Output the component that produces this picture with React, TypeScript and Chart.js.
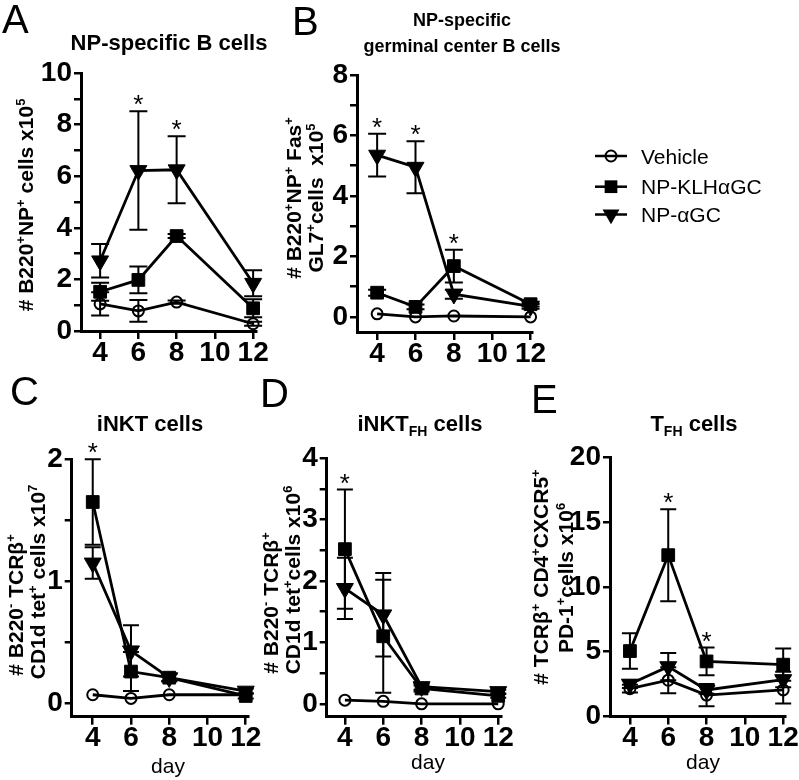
import React, { useEffect, useRef } from 'react';
import { Chart, registerables } from 'chart.js';

Chart.register(...registerables);

const FONT = '"Liberation Sans", Arial, Helvetica, sans-serif';

// ---------- data ----------
const days = [4, 6, 8, 12];
const xTicks = [4, 6, 8, 10, 12];
const seriesNames = ['Vehicle', 'NP-KLHαGC', 'NP-αGC'];

// Panel A: NP-specific B cells (x10^5)
const aVehicle = [1.05, 0.78, 1.12, 0.28];
const aVehicleErr = [0.45, 0.42, 0.06, 0.08];
const aKLH = [1.52, 1.98, 3.68, 0.88];
const aKLHErr = [0.35, 0.52, 0.08, 0.35];
const aAGC = [2.72, 6.22, 6.25, 1.85];
const aAGCErr = [0.65, 2.3, 1.3, 0.5];
const aStars = [6, 8];
const aYTicks = [0, 1, 2, 3, 4, 5, 6, 7, 8, 9, 10];
const aYLabels = [0, 2, 4, 6, 8, 10];

// Panel B: NP-specific GC B cells (x10^5)
const bVehicle = [0.1, 0.0, 0.03, 0.0];
const bVehicleErr = [0, 0, 0, 0];
const bKLH = [0.8, 0.33, 1.68, 0.42];
const bKLHErr = [0.1, 0.08, 0.54, 0.08];
const bAGC = [5.35, 4.95, 0.75, 0.35];
const bAGCErr = [0.71, 0.86, 0.15, 0.08];
const bStars = [4, 6, 8];
const bYTicks = [0, 1, 2, 3, 4, 5, 6, 7, 8];
const bYLabels = [0, 2, 4, 6, 8];

// Panel C: iNKT cells (x10^7)
const cVehicle = [0.07, 0.04, 0.07, 0.07];
const cVehicleErr = [0, 0, 0, 0];
const cKLH = [1.65, 0.26, 0.21, 0.06];
const cKLHErr = [0.35, 0.16, 0.03, 0.02];
const cAGC = [1.15, 0.43, 0.21, 0.1];
const cAGCErr = [0.13, 0.21, 0.03, 0.02];
const cStars = [4];
const cYTicks = [0, 0.5, 1, 1.5, 2];
const cYLabels = [0, 1, 2];

// Panel D: iNKT_FH cells (x10^6)
const dVehicle = [0.06, 0.04, 0.0, 0.0];
const dVehicleErr = [0, 0, 0, 0];
const dKLH = [2.52, 1.1, 0.25, 0.13];
const dKLHErr = [0.97, 0.92, 0.05, 0.03];
const dAGC = [1.88, 1.45, 0.28, 0.2];
const dAGCErr = [0.5, 0.68, 0.05, 0.03];
const dStars = [4];
const dYTicks = [0, 0.5, 1, 1.5, 2, 2.5, 3, 3.5, 4];
const dYLabels = [0, 1, 2, 3, 4];

// Panel E: T_FH cells (x10^6)
const eVehicle = [2.15, 2.8, 1.65, 2.05];
const eVehicleErr = [0.3, 1.0, 0.85, 1.05];
const eKLH = [5.05, 12.45, 4.25, 4.0];
const eKLHErr = [1.37, 3.55, 1.07, 1.25];
const eAGC = [2.5, 3.85, 2.05, 2.85];
const eAGCErr = [0.3, 1.05, 0.3, 0.6];
const eStars = [6, 8];
const eYTicks = [0, 5, 10, 15, 20];
const eYLabels = [0, 5, 10, 15, 20];

// ---------- layout ----------
type Series = { values: number[]; errs: number[] };
type Panel = {
  box: [number, number, number, number];
  plot: { left: number; top: number; right: number; bottom: number };
  xMin: number; xMax: number; yMin: number; yMax: number;
  yTicks: number[]; yLabels: number[];
  series: Series[];
  stars: number[];
  cap: number;
  title: { lines: string[]; x: number; y: number[]; size: number };
  yTitle: { lines: string[]; x: number[]; y: number[]; size: number };
  letter: { text: string; x: number; y: number };
  day?: { x: number; y: number };
  legend?: boolean;
};

const panels: Panel[] = [
  {
    box: [0, 0, 275, 370],
    plot: { left: 81, top: 73, right: 256, bottom: 331 },
    xMin: 3, xMax: 12.15, yMin: 0, yMax: 10,
    yTicks: aYTicks, yLabels: aYLabels,
    series: [
      { values: aVehicle, errs: aVehicleErr },
      { values: aKLH, errs: aKLHErr },
      { values: aAGC, errs: aAGCErr },
    ],
    stars: aStars, cap: 9,
    title: { lines: ['NP-specific B cells'], x: 169, y: [42], size: 22 },
    yTitle: { lines: ['# B220^{+}NP^{+} cells x10^{5}'], x: [25.5], y: [205], size: 21 },
    letter: { text: 'A', x: 2, y: 33 },
  },
  {
    box: [265, 0, 534, 370],
    plot: { left: 357, top: 75, right: 532.5, bottom: 332 },
    xMin: 2.95, xMax: 12.1, yMin: -0.5, yMax: 8,
    yTicks: bYTicks, yLabels: bYLabels,
    series: [
      { values: bVehicle, errs: bVehicleErr },
      { values: bKLH, errs: bKLHErr },
      { values: bAGC, errs: bAGCErr },
    ],
    stars: bStars, cap: 9,
    title: { lines: ['NP-specific', 'germinal center B cells'], x: 462, y: [20, 46], size: 18 },
    yTitle: { lines: ['# B220^{+}NP^{+} Fas^{+}', 'GL7^{+}cells  x10^{5}'], x: [293, 315], y: [198, 198], size: 21 },
    letter: { text: 'B', x: 292, y: 35 },
    legend: true,
  },
  {
    box: [0, 370, 270, 410],
    plot: { left: 71.7, top: 459.3, right: 248.6, bottom: 716.7 },
    xMin: 2.9, xMax: 12.15, yMin: -0.11, yMax: 2,
    yTicks: cYTicks, yLabels: cYLabels,
    series: [
      { values: cVehicle, errs: cVehicleErr },
      { values: cKLH, errs: cKLHErr },
      { values: cAGC, errs: cAGCErr },
    ],
    stars: cStars, cap: 8,
    title: { lines: ['iNKT cells'], x: 150, y: [423], size: 22 },
    yTitle: { lines: ['# B220^{-} TCRβ^{+}', 'CD1d tet^{+} cells x10^{7}'], x: [15, 37], y: [605, 582], size: 21 },
    letter: { text: 'C', x: 10, y: 405 },
    day: { x: 168, y: 773 },
  },
  {
    box: [255, 370, 275, 410],
    plot: { left: 326.7, top: 458.3, right: 501.1, bottom: 716.7 },
    xMin: 3.05, xMax: 12.15, yMin: -0.21, yMax: 4,
    yTicks: dYTicks, yLabels: dYLabels,
    series: [
      { values: dVehicle, errs: dVehicleErr },
      { values: dKLH, errs: dKLHErr },
      { values: dAGC, errs: dAGCErr },
    ],
    stars: dStars, cap: 8,
    title: { lines: ['iNKT_{FH} cells'], x: 420, y: [423], size: 22 },
    yTitle: { lines: ['# B220^{-} TCRβ^{+}', 'CD1d tet^{+}cells x10^{6}'], x: [270, 292], y: [603, 580], size: 21 },
    letter: { text: 'D', x: 260, y: 407 },
    day: { x: 428, y: 769 },
  },
  {
    box: [525, 370, 285, 410],
    plot: { left: 610, top: 457.3, right: 785.1, bottom: 716.5 },
    xMin: 2.96, xMax: 12.1, yMin: 0, yMax: 20,
    yTicks: eYTicks, yLabels: eYLabels,
    series: [
      { values: eVehicle, errs: eVehicleErr },
      { values: eKLH, errs: eKLHErr },
      { values: eAGC, errs: eAGCErr },
    ],
    stars: eStars, cap: 8,
    title: { lines: ['T_{FH} cells'], x: 694, y: [423], size: 22 },
    yTitle: { lines: ['# TCRβ^{+} CD4^{+}CXCR5^{+}', 'PD-1^{+}cells x10^{6}'], x: [540, 565], y: [577, 578], size: 21 },
    letter: { text: 'E', x: 531, y: 413 },
    day: { x: 703, y: 769 },
  },
];

const markers = [
  { style: 'circle', radius: 5.5, rotation: 0, bg: 'rgba(0,0,0,0)', bw: 2 },
  { style: 'rect', radius: 9, rotation: 0, bg: '#000', bw: 1 },
  { style: 'triangle', radius: 9.8, rotation: 180, bg: '#000', bw: 1 },
];

// ---------- rich text helpers ----------
type Seg = { t: string; k: number; w?: number };
function parseRich(s: string): Seg[] {
  const segs: Seg[] = [];
  const re = /([\^_])\{([^}]*)\}/g;
  let last = 0;
  let m: RegExpExecArray | null;
  while ((m = re.exec(s))) {
    if (m.index > last) segs.push({ t: s.slice(last, m.index), k: 0 });
    segs.push({ t: m[2], k: m[1] === '^' ? 1 : -1 });
    last = re.lastIndex;
  }
  if (last < s.length) segs.push({ t: s.slice(last), k: 0 });
  return segs;
}

function drawRich(ctx: CanvasRenderingContext2D, s: string, x: number, y: number, size: number, weight: string, align: 'center' | 'left') {
  const segs = parseRich(s);
  const fontOf = (k: number) => `${weight} ${k ? Math.round(size * 0.62) : size}px ${FONT}`;
  let total = 0;
  segs.forEach((g) => {
    ctx.font = fontOf(g.k);
    g.w = ctx.measureText(g.t).width;
    total += g.w;
  });
  let cx = align === 'center' ? x - total / 2 : x;
  ctx.textAlign = 'left';
  ctx.textBaseline = 'alphabetic';
  segs.forEach((g) => {
    ctx.font = fontOf(g.k);
    const dy = g.k === 1 ? -size * 0.38 : g.k === -1 ? size * 0.25 : 0;
    ctx.fillText(g.t, cx, y + dy);
    cx += g.w || 0;
  });
}

function drawMarker(ctx: CanvasRenderingContext2D, i: number, x: number, y: number) {
  const m = markers[i];
  ctx.beginPath();
  if (m.style === 'circle') {
    ctx.arc(x, y, m.radius, 0, Math.PI * 2);
    ctx.lineWidth = m.bw;
    ctx.stroke();
    return;
  }
  if (m.style === 'rect') {
    const h = Math.SQRT1_2 * m.radius;
    ctx.rect(x - h, y - h, 2 * h, 2 * h);
  } else {
    const r = m.radius;
    ctx.moveTo(x, y + r);
    ctx.lineTo(x - r * Math.sin(Math.PI / 3), y - r / 2);
    ctx.lineTo(x + r * Math.sin(Math.PI / 3), y - r / 2);
    ctx.closePath();
  }
  ctx.fill();
}

function annotationPlugin(p: Panel) {
  const [l, t] = p.box;
  return {
    id: 'annot',
    beforeDatasetsDraw(chart: any) {
      const ctx: CanvasRenderingContext2D = chart.ctx;
      const xs = chart.scales.x;
      const ys = chart.scales.y;
      ctx.save();
      ctx.strokeStyle = '#000';
      ctx.lineWidth = 2;
      p.series.forEach((s) => {
        s.values.forEach((v, i) => {
          const e = s.errs[i];
          if (!e) return;
          const px = xs.getPixelForValue(days[i]);
          const y1 = ys.getPixelForValue(v + e);
          const y2 = ys.getPixelForValue(v - e);
          ctx.beginPath();
          ctx.moveTo(px, y1);
          ctx.lineTo(px, y2);
          ctx.moveTo(px - p.cap, y1);
          ctx.lineTo(px + p.cap, y1);
          ctx.moveTo(px - p.cap, y2);
          ctx.lineTo(px + p.cap, y2);
          ctx.stroke();
        });
      });
      ctx.restore();
    },
    afterDraw(chart: any) {
      const ctx: CanvasRenderingContext2D = chart.ctx;
      const xs = chart.scales.x;
      const ys = chart.scales.y;
      ctx.save();
      ctx.fillStyle = '#000';
      ctx.strokeStyle = '#000';

      // stars
      p.stars.forEach((sx) => {
        const i = days.indexOf(sx);
        let top = -Infinity;
        p.series.forEach((s) => {
          top = Math.max(top, s.values[i] + (s.errs[i] || 0));
        });
        const py = ys.getPixelForValue(top);
        ctx.font = `26px ${FONT}`;
        ctx.textAlign = 'center';
        ctx.textBaseline = 'alphabetic';
        ctx.fillText('*', xs.getPixelForValue(sx), py - 13 + 0.58 * 26);
      });

      // title
      p.title.lines.forEach((line, k) => {
        drawRich(ctx, line, p.title.x - l, p.title.y[k] - t + p.title.size * 0.36, p.title.size, 'bold', 'center');
      });

      // y-axis title (rotated)
      p.yTitle.lines.forEach((line, k) => {
        ctx.save();
        ctx.translate(p.yTitle.x[k] - l, p.yTitle.y[k] - t);
        ctx.rotate(-Math.PI / 2);
        drawRich(ctx, line, 0, p.yTitle.size * 0.36, p.yTitle.size, 'bold', 'center');
        ctx.restore();
      });

      // panel letter
      ctx.font = `40px ${FONT}`;
      ctx.textAlign = 'left';
      ctx.textBaseline = 'alphabetic';
      ctx.fillText(p.letter.text, p.letter.x - l, p.letter.y - t);

      // day label
      if (p.day) {
        ctx.font = `21px ${FONT}`;
        ctx.textAlign = 'center';
        ctx.fillText('day', p.day.x - l, p.day.y - t);
      }

      // legend
      if (p.legend) {
        const rows = [156, 186.7, 214.5];
        seriesNames.forEach((name, i) => {
          const ry = rows[i] - t;
          ctx.lineWidth = 2.5;
          ctx.beginPath();
          ctx.moveTo(595 - l, ry);
          ctx.lineTo(627 - l, ry);
          ctx.stroke();
          drawMarker(ctx, i, 611 - l, ry);
          ctx.font = `21px ${FONT}`;
          ctx.textAlign = 'left';
          ctx.textBaseline = 'alphabetic';
          ctx.fillText(name, 641 - l, ry + 7.5);
        });
      }
      ctx.restore();
    },
  };
}

function buildConfig(p: Panel): any {
  const [l, t, w, h] = p.box;
  return {
    type: 'line',
    data: {
      datasets: p.series.map((s, i) => ({
        label: seriesNames[i],
        data: days.map((d, j) => ({ x: d, y: s.values[j] })),
        borderColor: '#000',
        borderWidth: 2.8,
        tension: 0,
        fill: false,
        clip: false,
        pointStyle: markers[i].style,
        pointRadius: markers[i].radius,
        pointRotation: markers[i].rotation,
        pointBackgroundColor: markers[i].bg,
        pointBorderColor: '#000',
        pointBorderWidth: markers[i].bw,
      })),
    },
    options: {
      animation: false,
      responsive: false,
      maintainAspectRatio: false,
      devicePixelRatio: 1,
      events: [],
      layout: { padding: { top: p.plot.top - t, left: 0, right: l + w - p.plot.right, bottom: 0 } },
      plugins: { legend: { display: false }, tooltip: { enabled: false } },
      scales: {
        x: {
          type: 'linear',
          min: p.xMin,
          max: p.xMax,
          afterBuildTicks: (s: any) => {
            s.ticks = xTicks.map((v) => ({ value: v }));
          },
          afterFit: (s: any) => {
            s.height = t + h - p.plot.bottom;
          },
          grid: { display: true, drawOnChartArea: false, drawTicks: true, tickLength: 8, color: '#000', lineWidth: 2.5 },
          border: { display: true, color: '#000', width: 3 },
          ticks: {
            color: '#000',
            font: { family: FONT, size: 28, weight: 'bold', lineHeight: 1 },
            padding: 0,
            autoSkip: false,
            maxRotation: 0,
            callback: (v: number) => String(v),
          },
        },
        y: {
          type: 'linear',
          min: p.yMin,
          max: p.yMax,
          afterBuildTicks: (s: any) => {
            s.ticks = p.yTicks.map((v) => ({ value: v }));
          },
          afterFit: (s: any) => {
            s.width = p.plot.left - l;
          },
          grid: { display: true, drawOnChartArea: false, drawTicks: true, tickLength: 7, color: '#000', lineWidth: 2.5 },
          border: { display: true, color: '#000', width: 3 },
          ticks: {
            color: '#000',
            font: { family: FONT, size: 28, weight: 'bold', lineHeight: 1 },
            padding: 2,
            autoSkip: false,
            callback: (v: number) => (p.yLabels.includes(v) ? String(v) : ''),
          },
        },
      },
    },
    plugins: [annotationPlugin(p)],
  };
}

function PanelChart({ p }: { p: Panel }) {
  const ref = useRef<HTMLCanvasElement>(null);
  useEffect(() => {
    const chart = new Chart(ref.current as HTMLCanvasElement, buildConfig(p));
    return () => chart.destroy();
  }, [p]);
  const [l, t, w, h] = p.box;
  return (
    <canvas
      ref={ref}
      width={w}
      height={h}
      style={{ position: 'absolute', left: l, top: t, width: w, height: h }}
    />
  );
}

export default function App() {
  return (
    <div style={{ position: 'absolute', left: 0, top: 0, width: 799, height: 780, background: '#fff', overflow: 'hidden' }}>
      {panels.map((p, i) => (
        <PanelChart key={i} p={p} />
      ))}
    </div>
  );
}
